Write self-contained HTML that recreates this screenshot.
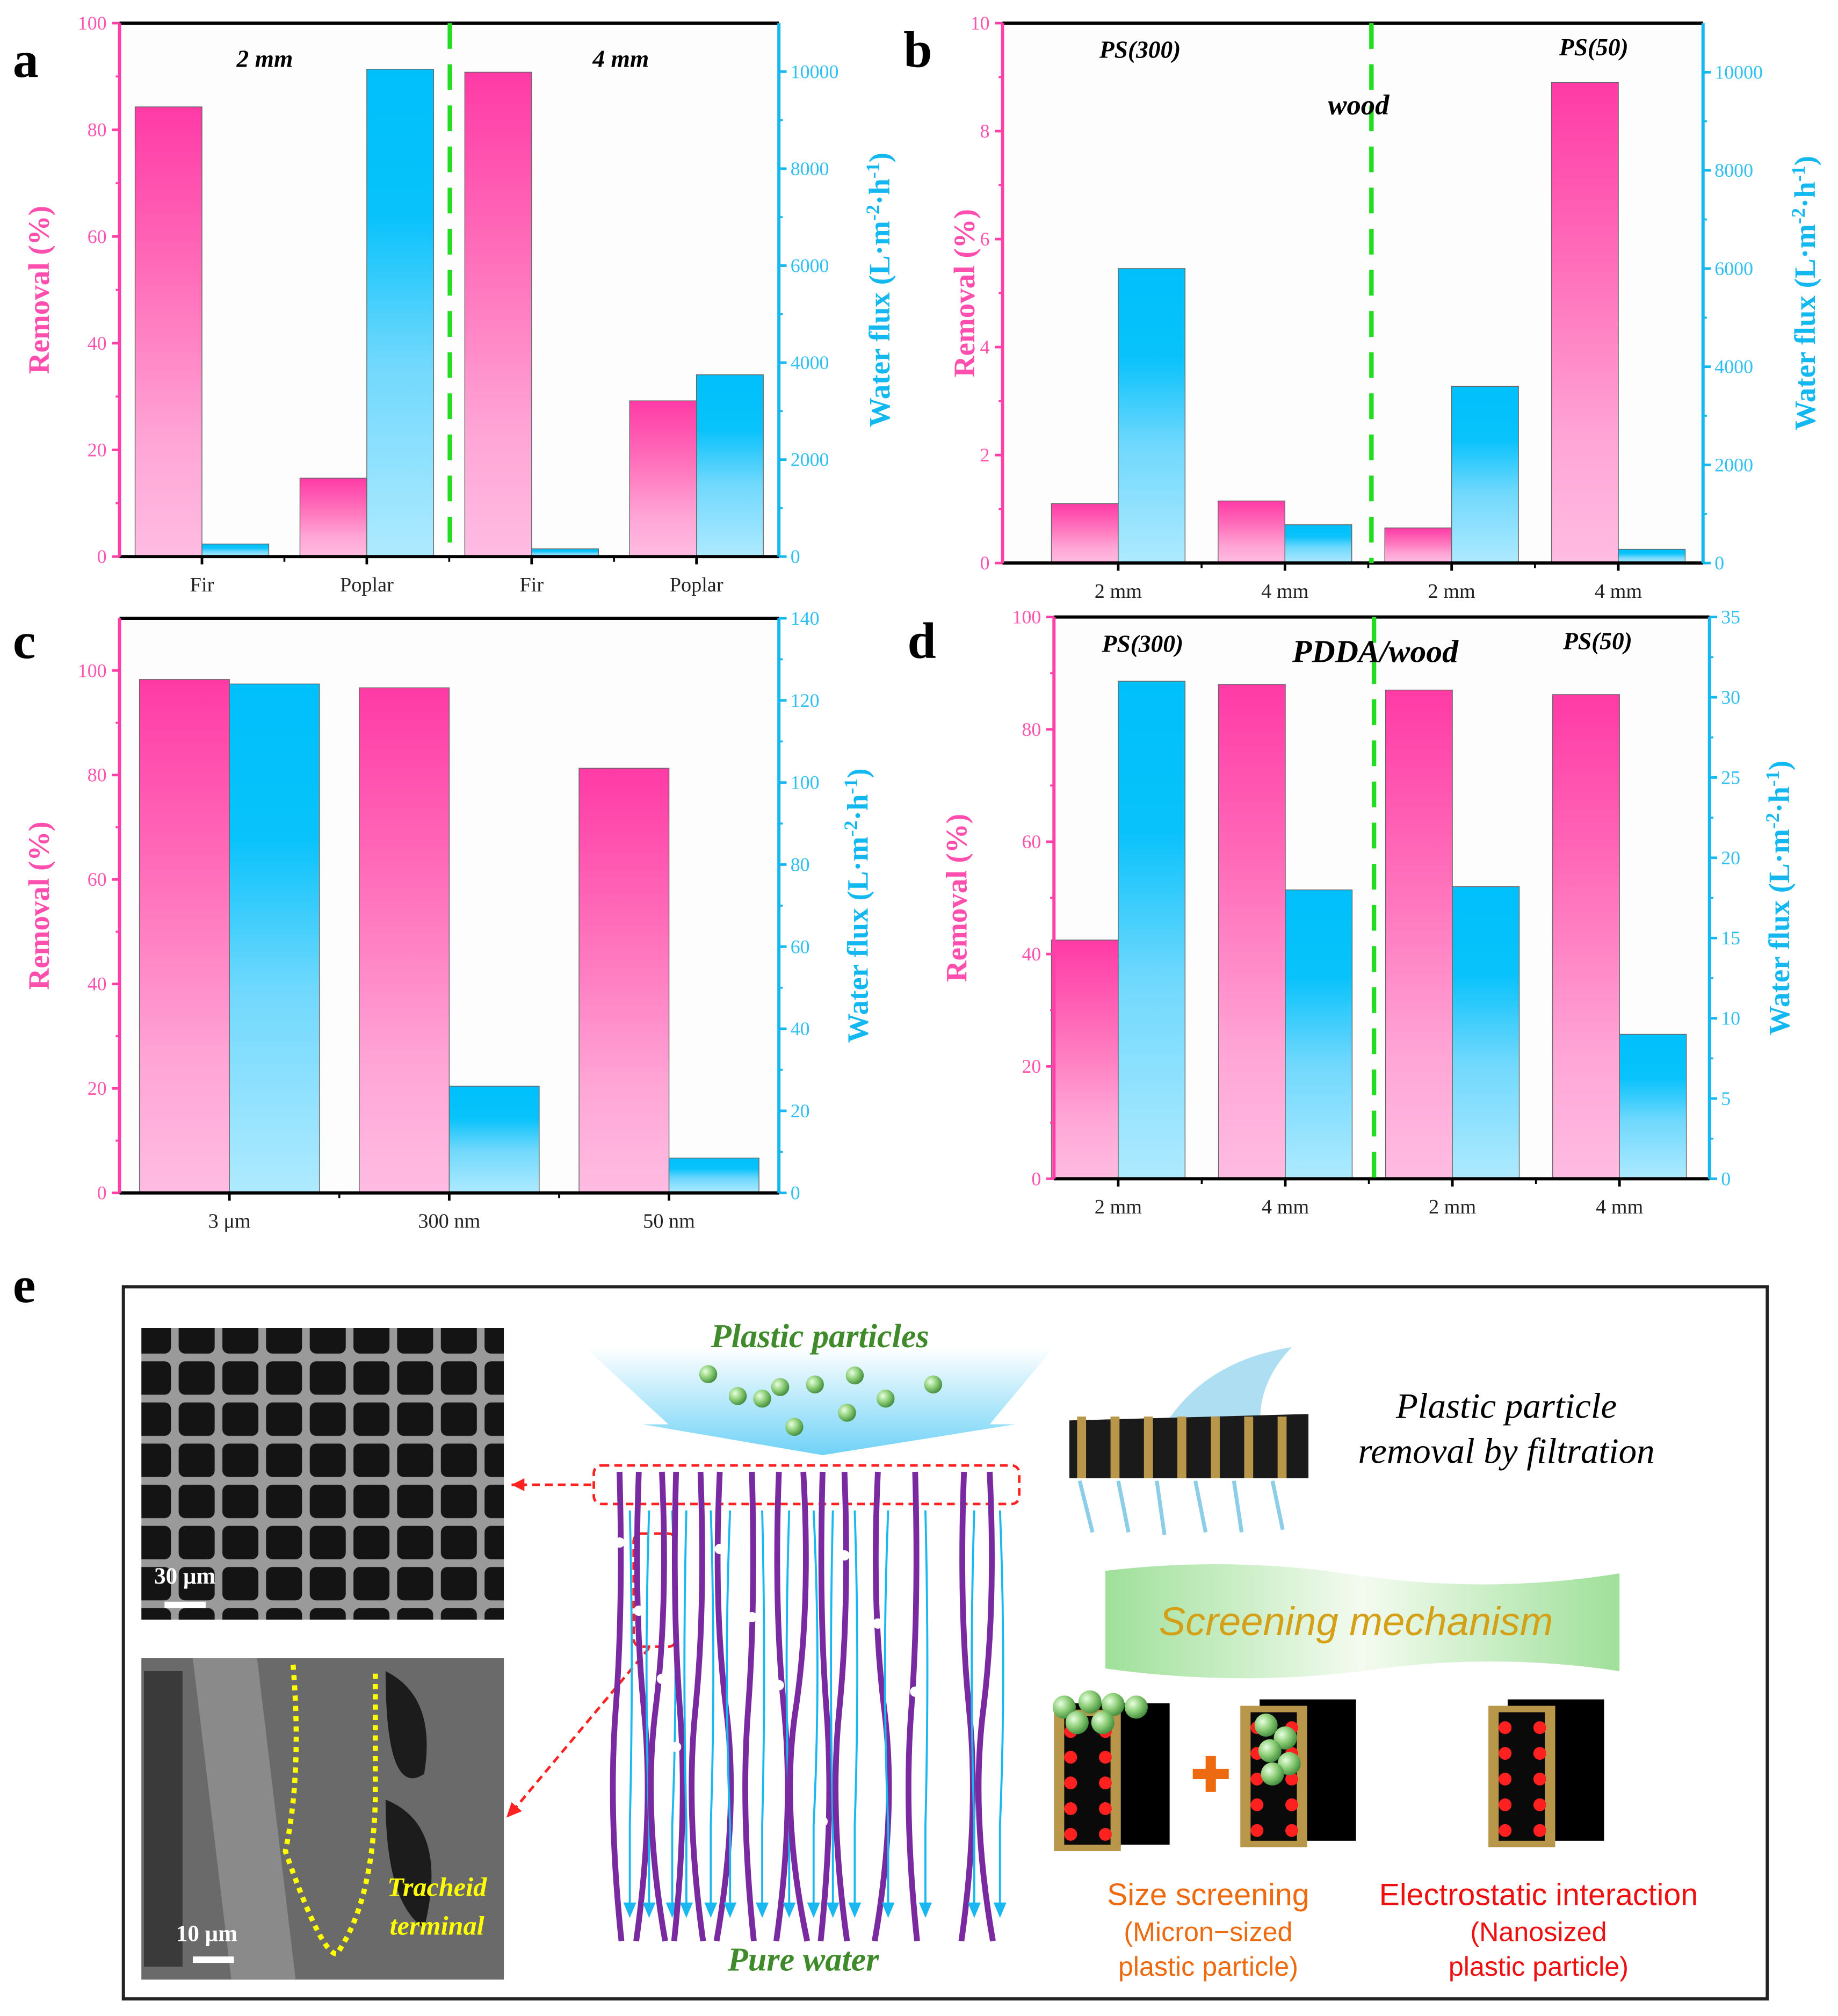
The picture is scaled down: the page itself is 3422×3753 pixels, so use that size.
<!DOCTYPE html>
<html><head><meta charset="utf-8"><style>
html,body{margin:0;padding:0;background:#fff}
svg{display:block}
text{font-family:"Liberation Serif",serif}
</style></head><body>
<svg id="fig" width="3422" height="3753" viewBox="0 0 1430 1568.3" preserveAspectRatio="none" xmlns="http://www.w3.org/2000/svg">
<defs>
<linearGradient id="gp" x1="0" y1="0" x2="0" y2="1"><stop offset="0" stop-color="#ff3aa6"/><stop offset="0.35" stop-color="#ff6ab8"/><stop offset="0.75" stop-color="#ffa6d6"/><stop offset="1" stop-color="#ffbce2"/></linearGradient>
<linearGradient id="gb" x1="0" y1="0" x2="0" y2="1"><stop offset="0" stop-color="#00c0fb"/><stop offset="0.3" stop-color="#08c2fb"/><stop offset="0.6" stop-color="#70d8fd"/><stop offset="1" stop-color="#aeeaff"/></linearGradient>
<linearGradient id="tri" x1="0" y1="0" x2="0" y2="1"><stop offset="0" stop-color="#ffffff"/><stop offset="1" stop-color="#6fd2f7"/></linearGradient>
<linearGradient id="ban" x1="0" y1="0" x2="1" y2="0"><stop offset="0" stop-color="#9fe09a"/><stop offset="0.5" stop-color="#f4fbf0"/><stop offset="1" stop-color="#9fe09a"/></linearGradient>
<radialGradient id="ball" cx="0.35" cy="0.35" r="0.7"><stop offset="0" stop-color="#e8ffe0"/><stop offset="0.5" stop-color="#8fcf7a"/><stop offset="1" stop-color="#3f8a3a"/></radialGradient>
<pattern id="cells" width="34" height="32" patternUnits="userSpaceOnUse"><rect width="34" height="32" fill="#9a9a9a"/><rect x="3" y="3" width="28" height="26" rx="5" fill="#141414"/></pattern>
</defs>
<g id="charts"></g>
<g id="panel-e"></g>
</svg>
<script>
// ---- Panel a data
const aCats = ["Fir","Poplar","Fir","Poplar"];
const aRemoval = [84.3, 14.7, 90.8, 29.2];
const aFlux = [260, 10050, 160, 3750];
const aLeftTicks = [0,20,40,60,80,100];
const aRightTicks = [0,2000,4000,6000,8000,10000];
// ---- Panel b data
const bCats = ["2 mm","4 mm","2 mm","4 mm"];
const bRemoval = [1.1, 1.15, 0.65, 8.9];
const bFlux = [6000, 780, 3600, 280];
const bLeftTicks = [0,2,4,6,8,10];
const bRightTicks = [0,2000,4000,6000,8000,10000];
// ---- Panel c data
const cCats = ["3 \u03bcm","300 nm","50 nm"];
const cRemoval = [98.3, 96.7, 81.3];
const cFlux = [124, 26, 8.5];
const cLeftTicks = [0,20,40,60,80,100];
const cRightTicks = [0,20,40,60,80,100,120,140];
// ---- Panel d data
const dCats = ["2 mm","4 mm","2 mm","4 mm"];
const dRemoval = [42.5, 88.0, 87.0, 86.2];
const dFlux = [31.0, 18.0, 18.2, 9.0];
const dLeftTicks = [0,20,40,60,80,100];
const dRightTicks = [0,5,10,15,20,25,30,35];

const NS="http://www.w3.org/2000/svg";
function mk(tag, attrs, parent, txt){const e=document.createElementNS(NS,tag);for(const k in attrs)e.setAttribute(k,attrs[k]);if(txt!==undefined)e.textContent=txt;parent.appendChild(e);return e;}
const root=document.getElementById('charts');

function chart(o){
  const g=mk('g',{},root);
  
  
  const {x0,x1,y0,y1}=o;
  const yL=v=>y1-(v/o.lmax)*(y1-y0);
  const yR=v=>y1-(v/o.rmax)*(y1-y0);
  const n=o.cats.length, step=o.step||(x1-x0)/n;
  const first=o.first||(x0+step/2);
  const xc=i=>first+step*i;
  mk('rect',{x:x0,y:y0,width:x1-x0,height:y1-y0,fill:'#fdfdfd'},g);
  for(let i=0;i<n;i++){
    const b1=mk('rect',{x:xc(i)-o.bw,y:yL(o.rem[i]),width:o.bw,height:y1-yL(o.rem[i]),fill:'url(#gp)',stroke:'#666','stroke-width':0.6},g);
    
    
    const b2=mk('rect',{x:xc(i),y:yR(o.flux[i]),width:o.bw,height:y1-yR(o.flux[i]),fill:'url(#gb)',stroke:'#666','stroke-width':0.6},g);
    
    
    const t=mk('text',{x:xc(i),y:y1+27,'font-size':16,'text-anchor':'middle',fill:'#222'},g,o.cats[i]);
    
    
    mk('line',{x1:xc(i),y1:y1,x2:xc(i),y2:y1+6,stroke:'#000','stroke-width':2},g);
    if(i>0) mk('line',{x1:xc(i)-step/2,y1:y1,x2:xc(i)-step/2,y2:y1+4,stroke:'#000','stroke-width':1.5},g);
  }
  mk('line',{x1:x0,y1:y0,x2:x1,y2:y0,stroke:'#000','stroke-width':2.5},g);
  mk('line',{x1:x0,y1:y1,x2:x1,y2:y1,stroke:'#000','stroke-width':2.5},g);
  mk('line',{x1:x0,y1:y0,x2:x0,y2:y1,stroke:'#ff3fa8','stroke-width':2.5},g);
  mk('line',{x1:x1,y1:y0,x2:x1,y2:y1,stroke:'#14b8f0','stroke-width':2.5},g);
  o.lt.forEach((v,k)=>{
    mk('line',{x1:x0-6,y1:yL(v),x2:x0,y2:yL(v),stroke:'#ff3fa8','stroke-width':2},g);
    if(k<o.lt.length-1){const m=(o.lt[k]+o.lt[k+1])/2;mk('line',{x1:x0-3,y1:yL(m),x2:x0,y2:yL(m),stroke:'#ff3fa8','stroke-width':1.5},g);}
    const t=mk('text',{x:x0-10,y:yL(v)+5,'font-size':15,'text-anchor':'end',fill:'#ff55b0'},g,v);
    
    
  });
  o.rt.forEach((v,k)=>{
    mk('line',{x1:x1,y1:yR(v),x2:x1+6,y2:yR(v),stroke:'#14b8f0','stroke-width':2},g);
    if(k<o.rt.length-1){const m=(o.rt[k]+o.rt[k+1])/2;mk('line',{x1:x1,y1:yR(m),x2:x1+3,y2:yR(m),stroke:'#14b8f0','stroke-width':1.5},g);}
    const t=mk('text',{x:x1+9,y:yR(v)+5,'font-size':15,fill:'#2ec0f2'},g,v);
    
    
  });
  if(o.dash) mk('line',{x1:o.dash,y1:y0,x2:o.dash,y2:y1,stroke:'#22dd22','stroke-width':3.5,'stroke-dasharray':'20 12'},g);
  const ym=(y0+y1)/2;
  const lt=mk('text',{x:o.ltx,y:ym,'font-size':23,'font-weight':'bold',fill:'#ff4fae','text-anchor':'middle',transform:`rotate(-90 ${o.ltx} ${ym})`},g,'Removal (%)');
  
  
  const rt=mk('text',{x:o.rtx,y:ym,'font-size':23,'font-weight':'bold',fill:'#14b8f0','text-anchor':'middle',transform:`rotate(-90 ${o.rtx} ${ym})`},g);
  
  
  rt.innerHTML='Water flux (L·m<tspan dy="-8" font-size="15">-2</tspan><tspan dy="8">·h</tspan><tspan dy="-8" font-size="15">-1</tspan><tspan dy="8">)</tspan>';
  const pl=mk('text',{x:o.plx,y:o.ply,'font-size':40,'font-weight':'bold',fill:'#000'},g,o.id);
  
  
  (o.notes||[]).forEach(nt=>{const t=mk('text',{x:nt[0],y:nt[1],'font-size':nt[3],'font-weight':'bold','font-style':'italic','text-anchor':'middle',fill:'#000'},g,nt[2]);
    
    });
}
chart({id:'a',x0:93,x1:606,y0:18,y1:433,lmax:100,rmax:11000,bw:52,cats:aCats,rem:aRemoval,flux:aFlux,lt:aLeftTicks,rt:aRightTicks,dash:350,ltx:38,rtx:692,plx:10,ply:60,notes:[[206,52,'2 mm',19],[483,52,'4 mm',19]]});
chart({id:'b',x0:780,x1:1325,y0:18,y1:438,lmax:10,rmax:11000,bw:52,first:870,step:129.7,cats:bCats,rem:bRemoval,flux:bFlux,lt:bLeftTicks,rt:bRightTicks,dash:1067,ltx:758,rtx:1412,plx:703,ply:52,notes:[[887,45,'PS(300)',19],[1240,43,'PS(50)',19],[1057,89,'wood',22]]});
chart({id:'c',x0:93,x1:606,y0:481,y1:928,lmax:110,rmax:140,bw:70,cats:cCats,rem:cRemoval,flux:cFlux,lt:cLeftTicks,rt:cRightTicks,dash:0,ltx:38,rtx:675,plx:10,ply:512,notes:[]});
chart({id:'d',x0:820,x1:1330,y0:480,y1:917,lmax:100,rmax:35,bw:52,first:870,step:130,cats:dCats,rem:dRemoval,flux:dFlux,lt:dLeftTicks,rt:dRightTicks,dash:1069,ltx:752,rtx:1392,plx:706,ply:512,notes:[[889,507,'PS(300)',19],[1070,515,'PDDA/wood',25],[1243,505,'PS(50)',19]]});

// ---- Panel e (schematic)
const E=document.getElementById('panel-e');
let t;
t=mk('text',{x:10,y:1013,'font-size':40,'font-weight':'bold'},E,'e');


mk('rect',{x:96,y:1001,width:1279,height:554,fill:'#fff',stroke:'#222','stroke-width':2.5},E);
const s1=mk('rect',{x:110,y:1033,width:282,height:227,fill:'url(#cells)'},E);


mk('text',{x:120,y:1232,'font-size':18,'font-weight':'bold',fill:'#fff'},E,'30 μm');
mk('rect',{x:128,y:1246,width:32,height:5,fill:'#fff'},E);
const s2=mk('rect',{x:110,y:1290,width:282,height:250,fill:'#6a6a6a'},E);


mk('path',{d:'M150 1290 L200 1290 L230 1540 L180 1540Z',fill:'#8a8a8a'},E);
mk('path',{d:'M300 1300 Q340 1320 330 1380 Q300 1400 300 1300Z M300 1400 Q350 1420 330 1500 Q300 1480 300 1400Z',fill:'#1c1c1c'},E);
mk('rect',{x:112,y:1300,width:30,height:230,fill:'#3a3a3a'},E);
mk('path',{d:'M228 1295 Q235 1380 222 1440 Q250 1520 262 1520 Q290 1480 292 1400 L292 1300',fill:'none',stroke:'#ffff00','stroke-width':4,'stroke-dasharray':'4 4'},E);
mk('text',{x:340,y:1475,'font-size':21,'font-style':'italic','font-weight':'bold',fill:'#ffff00','text-anchor':'middle'},E,'Tracheid');
mk('text',{x:340,y:1505,'font-size':21,'font-style':'italic','font-weight':'bold',fill:'#ffff00','text-anchor':'middle'},E,'terminal');
mk('text',{x:137,y:1510,'font-size':18,'font-weight':'bold',fill:'#fff'},E,'10 μm');
mk('rect',{x:150,y:1522,width:32,height:5,fill:'#fff'},E);
mk('path',{d:'M455 1048 L820 1048 L770 1108 L790 1108 L640 1132 L500 1108 L520 1108Z',fill:'url(#tri)'},E);
t=mk('text',{x:638,y:1048,'font-size':26,'font-style':'italic','font-weight':'bold',fill:'#3f8a2a','text-anchor':'middle'},E,'Plastic particles');


[[551,1069],[574,1086],[593,1088],[607,1079],[634,1077],[665,1070],[689,1088],[726,1077],[659,1099],[618,1110]].forEach(p=>mk('circle',{cx:p[0],cy:p[1],r:7,fill:'url(#ball)'},E));
mk('rect',{x:462,y:1140,width:331,height:30,rx:6,fill:'none',stroke:'#ff2020','stroke-width':2,'stroke-dasharray':'6 4'},E);
mk('rect',{x:493,y:1193,width:33,height:88,rx:6,fill:'none',stroke:'#ff2020','stroke-width':2,'stroke-dasharray':'6 4'},E);
mk('path',{d:'M460 1155 L398 1155',stroke:'#ff2020','stroke-width':2,'stroke-dasharray':'6 4',fill:'none'},E);
mk('path',{d:'M398 1155 l10 -5 l0 10z',fill:'#ff2020'},E);
mk('path',{d:'M505 1282 L398 1410',stroke:'#ff2020','stroke-width':2,'stroke-dasharray':'6 4',fill:'none'},E);
mk('path',{d:'M394 1414 l4 -12 l8 7z',fill:'#ff2020'},E);
const fx=[482,497,515,526,545,560,585,606,625,640,657,683,712,750,770];
const wig=[3,-4,5,-3,4,-5,3,-4,6,-3,4,-5,3,-4,5];
fx.forEach((x,i)=>{
  mk('path',{d:`M${x} 1145 Q${x+wig[i]} 1250 ${x-wig[i]} 1330 T${x+wig[i]/2} 1510`,fill:'none',stroke:'#7a2aa0','stroke-width':4.5},E);
  const w=x+8;
  mk('path',{d:`M${w} 1175 Q${w+wig[i]} 1300 ${w} 1420 L${w} 1488`,fill:'none',stroke:'#1ab8f0','stroke-width':1.6},E);
  mk('path',{d:`M${w-5} 1480 l5 12 l5 -12z`,fill:'#1ab8f0'},E);
  mk('circle',{cx:x,cy:1200+((i*53)%260),r:4,fill:'#fff'},E);
});
t=mk('text',{x:625,y:1533,'font-size':26,'font-style':'italic','font-weight':'bold',fill:'#3f8a2a','text-anchor':'middle'},E,'Pure water');


// filter illustration
mk('path',{d:'M900 1120 Q930 1060 1005 1048 Q970 1085 985 1130Z',fill:'#9fd8ef',opacity:0.85},E);
mk('path',{d:'M832 1105 L1018 1100 L1018 1150 L832 1150Z',fill:'#1a1a1a'},E);
for(let i=0;i<7;i++) mk('rect',{x:838+i*26,y:1102,width:7,height:48,fill:'#b8964a'},E);
mk('path',{d:'M840 1152 l10 40 M870 1152 l8 40 M900 1152 l6 42 M930 1152 l8 40 M960 1152 l6 40 M990 1152 l8 38',stroke:'#8ccde8','stroke-width':3},E);
t=mk('text',{x:1172,y:1103,'font-size':28,'font-style':'italic',fill:'#000','text-anchor':'middle'},E,'Plastic particle');


mk('text',{x:1172,y:1138,'font-size':28,'font-style':'italic',fill:'#000','text-anchor':'middle'},E,'removal by filtration');
mk('path',{d:'M860 1222 Q960 1210 1060 1226 Q1160 1240 1260 1224 L1260 1300 Q1160 1285 1060 1300 Q960 1312 860 1298Z',fill:'url(#ban)'},E);
t=mk('text',{x:1055,y:1272,'font-size':31,'font-style':'italic',fill:'#d4a017','text-anchor':'middle',style:'font-family:"Liberation Sans",sans-serif'},E,'Screening mechanism');


[[820,1325],[965,1322],[1158,1322]].forEach((b,k)=>{
  mk('rect',{x:b[0]+15,y:b[1],width:75,height:110,fill:'#000'},E);
  mk('rect',{x:b[0],y:b[1]+5,width:52,height:110,fill:'#b8964a'},E);
  mk('rect',{x:b[0]+8,y:b[1]+10,width:36,height:100,fill:'#0a0a0a'},E);
  for(let j=0;j<5;j++){mk('circle',{cx:b[0]+13,cy:b[1]+22+j*20,r:5,fill:'#ff2020'},E);mk('circle',{cx:b[0]+40,cy:b[1]+22+j*20,r:5,fill:'#ff2020'},E);}
});
[[828,1328],[848,1324],[866,1326],[884,1328],[838,1340],[858,1340]].forEach(p=>mk('circle',{cx:p[0],cy:p[1],r:9,fill:'url(#ball)'},E));
[[985,1342],[1000,1352],[988,1362],[1003,1372],[990,1380]].forEach(p=>mk('circle',{cx:p[0],cy:p[1],r:9,fill:'url(#ball)'},E));
mk('path',{d:'M928 1380 h28 M942 1366 v28',stroke:'#ee6a10','stroke-width':8},E);
t=mk('text',{x:940,y:1482,'font-size':24,fill:'#ee6a10','text-anchor':'middle',style:'font-family:"Liberation Sans",sans-serif'},E,'Size screening');


mk('text',{x:940,y:1510,'font-size':21,fill:'#ee6a10','text-anchor':'middle',style:'font-family:"Liberation Sans",sans-serif'},E,'(Micron−sized');
mk('text',{x:940,y:1537,'font-size':21,fill:'#ee6a10','text-anchor':'middle',style:'font-family:"Liberation Sans",sans-serif'},E,'plastic particle)');
t=mk('text',{x:1197,y:1482,'font-size':24,fill:'#ee1010','text-anchor':'middle',style:'font-family:"Liberation Sans",sans-serif'},E,'Electrostatic interaction');


mk('text',{x:1197,y:1510,'font-size':21,fill:'#ee1010','text-anchor':'middle',style:'font-family:"Liberation Sans",sans-serif'},E,'(Nanosized');
mk('text',{x:1197,y:1537,'font-size':21,fill:'#ee1010','text-anchor':'middle',style:'font-family:"Liberation Sans",sans-serif'},E,'plastic particle)');
</script>
</body></html>
